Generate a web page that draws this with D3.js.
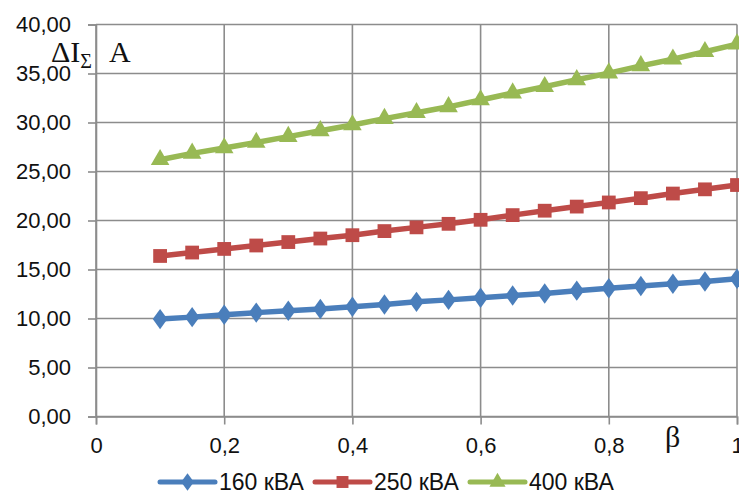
<!DOCTYPE html>
<html>
<head>
<meta charset="utf-8">
<script src="https://cdn.jsdelivr.net/npm/d3@7"></script>
<style>
  body { margin: 0; background: #fff; }
  svg { display: block; }
  .tick text { font-family: "Liberation Sans", Arial, sans-serif; }
</style>
</head>
<body>
<svg id="chart" width="739" height="495"></svg>
<script>
// ── DATA ─────────────────────────────────────────────
const beta = [0.1, 0.15, 0.2, 0.25, 0.3, 0.35, 0.4, 0.45, 0.5, 0.55,
              0.6, 0.65, 0.7, 0.75, 0.8, 0.85, 0.9, 0.95, 1.0];
const s160 = [9.94, 10.14, 10.38, 10.6, 10.79, 10.97, 11.2, 11.43, 11.7, 11.9,
              12.12, 12.35, 12.55, 12.84, 13.08, 13.32, 13.54, 13.78, 14.05];
const s250 = [16.38, 16.73, 17.1, 17.45, 17.8, 18.16, 18.5, 18.92, 19.3, 19.66,
              20.07, 20.55, 21.0, 21.42, 21.84, 22.28, 22.75, 23.18, 23.62];
const s400 = [26.2, 26.85, 27.4, 27.96, 28.56, 29.15, 29.75, 30.4, 31.0, 31.6,
              32.3, 33.0, 33.66, 34.36, 35.04, 35.78, 36.46, 37.22, 38.0];
const seriesNames = ['160 кВА', '250 кВА', '400 кВА'];
const xTicks = [0, 0.2, 0.4, 0.6, 0.8, 1];
const yTicks = [0, 5, 10, 15, 20, 25, 30, 35, 40];

// ── SETUP ────────────────────────────────────────────
const PL = 96, PR = 737, PT = 24.5, PB = 416.5;
const svg = d3.select('#chart');
const x = d3.scaleLinear().domain([0, 1]).range([PL, PR]);
const y = d3.scaleLinear().domain([0, 40]).range([PB, PT]);
const fmt = v => d3.format('.2f')(v).replace('.', ',');
const fmtX = v => String(v).replace('.', ',');
const GRID = '#8c8c8c';

// grid
svg.append('g')
  .selectAll('line').data(yTicks).join('line')
  .attr('x1', PL).attr('x2', PR)
  .attr('y1', d => y(d)).attr('y2', d => y(d))
  .attr('stroke', GRID).attr('stroke-width', 1.6);
svg.append('g')
  .selectAll('line').data(xTicks).join('line')
  .attr('x1', d => x(d)).attr('x2', d => x(d))
  .attr('y1', PT).attr('y2', PB)
  .attr('stroke', GRID).attr('stroke-width', 1.6);

// axes
const yAxis = svg.append('g')
  .attr('transform', `translate(${PL},0)`)
  .call(d3.axisLeft(y).tickValues(yTicks).tickFormat(fmt).tickSize(8).tickPadding(17));
const xAxis = svg.append('g')
  .attr('transform', `translate(0,${PB})`)
  .call(d3.axisBottom(x).tickValues(xTicks).tickFormat(fmtX).tickSize(8).tickPadding(13));
[yAxis, xAxis].forEach(a => {
  a.select('.domain').attr('stroke', GRID).attr('stroke-width', 1.6);
  a.selectAll('.tick line').attr('stroke', GRID).attr('stroke-width', 1.6);
  a.selectAll('.tick text').attr('font-size', 22).attr('fill', '#111');
});

// ── SERIES ───────────────────────────────────────────
const series = [
  { name: seriesNames[0], values: s160, color: '#4a7ebb', symbol: d3.symbolDiamond, size: 120 },
  { name: seriesNames[1], values: s250, color: '#be4b48', symbol: d3.symbolSquare, size: 190 },
  { name: seriesNames[2], values: s400, color: '#98b954', symbol: d3.symbolTriangle, size: 150 }
];
const line = d3.line().x(d => x(d[0])).y(d => y(d[1]));
const symT = s => (s.symbol === d3.symbolDiamond ? ' scale(1.25,1)' : '');

series.forEach(s => {
  const pts = beta.map((b, i) => [b, s.values[i]]);
  svg.append('path').datum(pts)
    .attr('d', line).attr('fill', 'none')
    .attr('stroke', s.color).attr('stroke-width', 5.5)
    .attr('stroke-linejoin', 'round');
  svg.append('g').selectAll('path').data(pts).join('path')
    .attr('d', d3.symbol().type(s.symbol).size(s.size))
    .attr('transform', d => `translate(${x(d[0])},${y(d[1])})` + symT(s))
    .attr('fill', s.color);
});

// ── AXIS TITLES ──────────────────────────────────────
const yt = svg.append('text')
  .attr('x', 51).attr('y', 62)
  .attr('font-family', '"Liberation Serif", "Times New Roman", serif')
  .attr('font-size', 30).attr('fill', '#111');
yt.append('tspan').text('ΔI');
yt.append('tspan').text('Σ').attr('font-size', 20).attr('dy', 6);
yt.append('tspan').text('A').attr('dy', -6).attr('dx', 17);

svg.append('text')
  .attr('x', 665).attr('y', 447)
  .attr('font-family', '"Liberation Serif", "Times New Roman", serif')
  .attr('font-size', 30).attr('fill', '#111')
  .text('β');

// ── LEGEND ───────────────────────────────────────────
const legX = [160, 315, 470];
const legY = 482;
series.forEach((s, i) => {
  const g = svg.append('g').attr('transform', `translate(${legX[i]},${legY})`);
  g.append('line').attr('x1', 0).attr('x2', 55)
    .attr('stroke', s.color).attr('stroke-width', 5).attr('stroke-linecap', 'round');
  g.append('path')
    .attr('d', d3.symbol().type(s.symbol).size(s.size * 0.75))
    .attr('transform', 'translate(27.5,0)' + symT(s))
    .attr('fill', s.color);
  g.append('text').attr('x', 59).attr('y', 8)
    .attr('font-family', '"Liberation Sans", Arial, sans-serif')
    .attr('font-size', 23).attr('fill', '#111')
    .text(s.name);
});
</script>
</body>
</html>
